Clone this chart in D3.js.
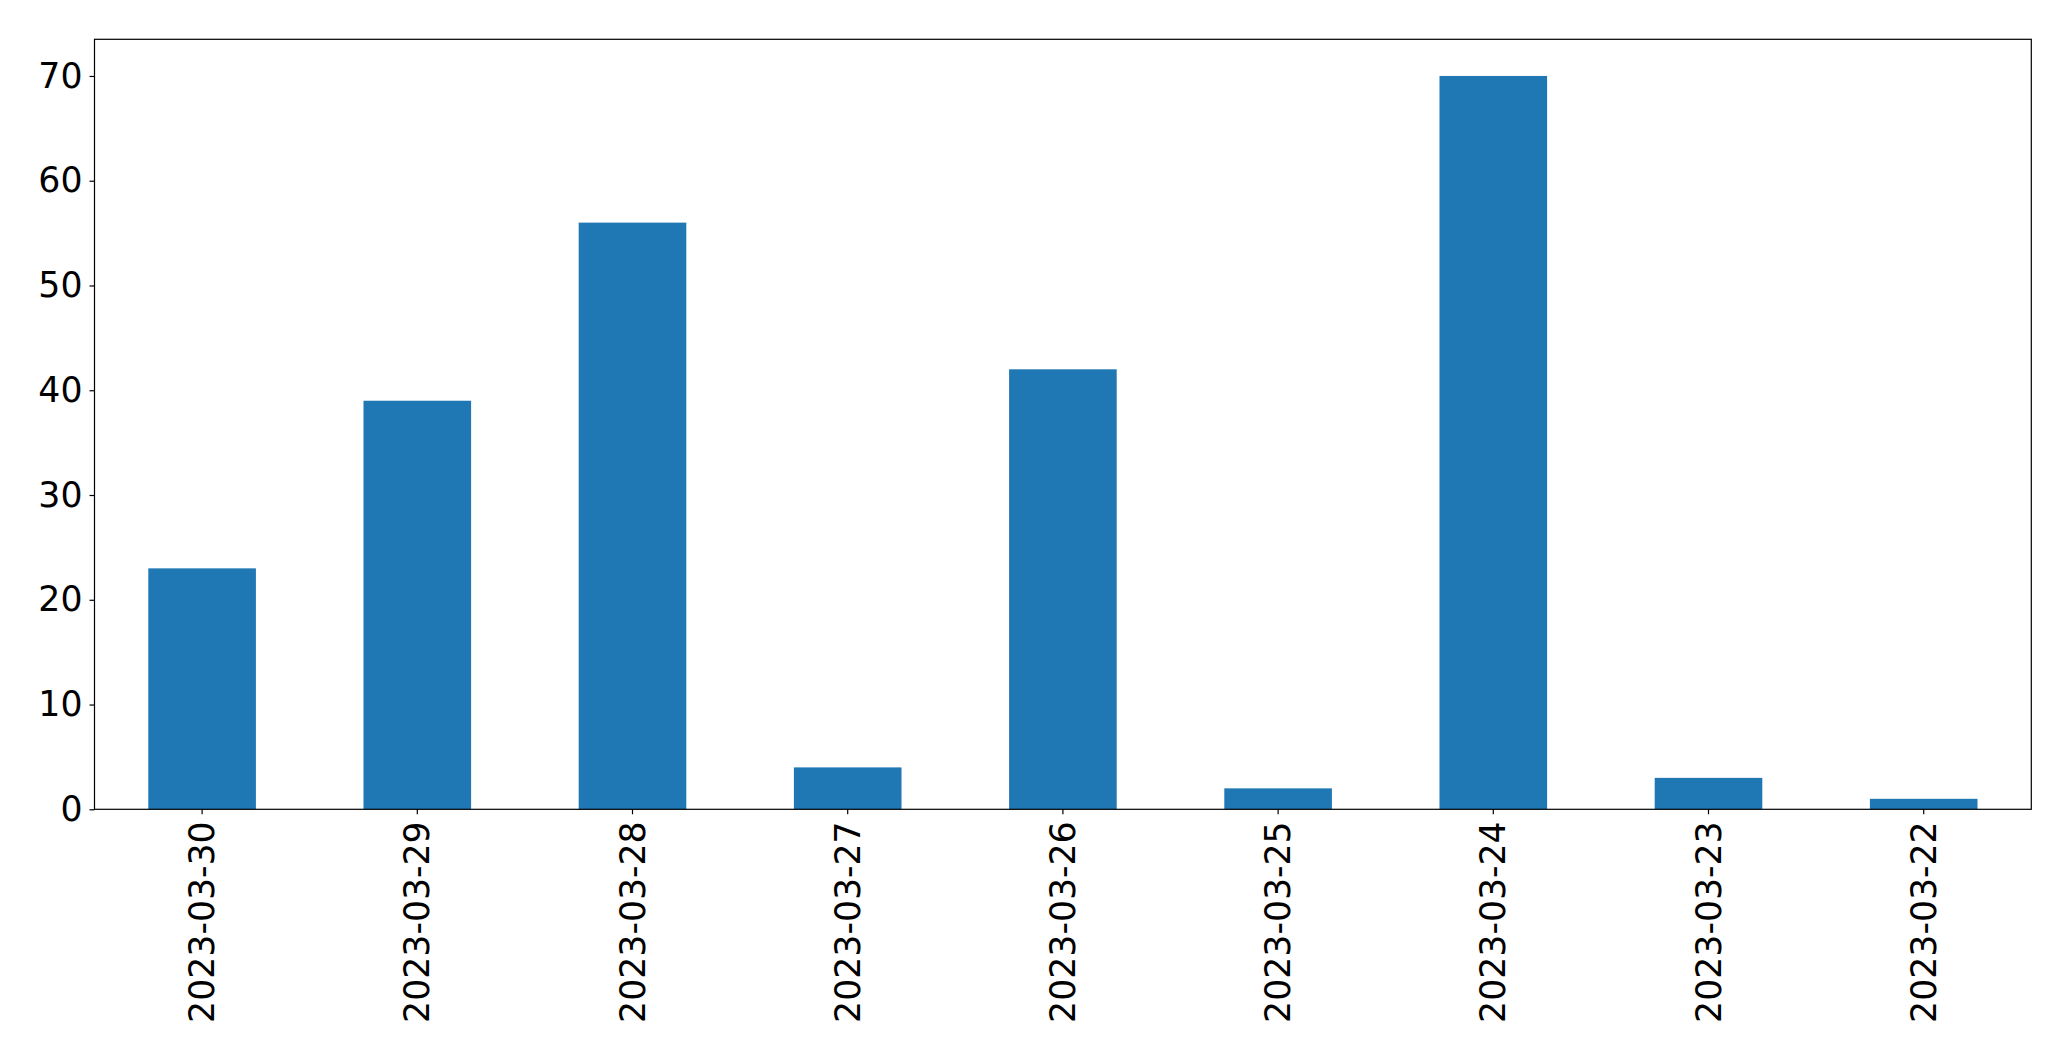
<!DOCTYPE html>
<html><head><meta charset="utf-8">
<script src="https://cdn.jsdelivr.net/npm/d3@7"></script>
<style>body{margin:0;background:#fff;} svg{display:block;}</style>
</head><body>
<script>
const categories = ["2023-03-30","2023-03-29","2023-03-28","2023-03-27","2023-03-26","2023-03-25","2023-03-24","2023-03-23","2023-03-22"];
const values = [23, 39, 56, 4, 42, 2, 70, 3, 1];
const yTicks = [0, 10, 20, 30, 40, 50, 60, 70];

const W = 2071, H = 1061;
const m = {left: 94.5, right: 2031.3, top: 39.3, bottom: 809.3};
const svg = d3.select("body").append("svg").attr("width", W).attr("height", H)
  .style("font-family", "'DejaVu Sans', sans-serif");

const x = d3.scaleBand().domain(categories).range([m.left, m.right]).paddingInner(0.5).paddingOuter(0.25);
const y = d3.scaleLinear().domain([0, 73.5]).range([m.bottom, m.top]);

svg.append("g").selectAll("rect").data(values).join("rect")
  .attr("x", (d, i) => x(categories[i]))
  .attr("width", x.bandwidth())
  .attr("y", d => y(d))
  .attr("height", d => y(0) - y(d))
  .attr("fill", "#1f77b4");

const yAxis = svg.append("g").attr("transform", `translate(${m.left},0)`)
  .call(d3.axisLeft(y).tickValues(yTicks).tickSize(5).tickPadding(7).tickFormat(d3.format("d")));
yAxis.select(".domain").remove();
yAxis.selectAll("text").attr("font-size", 34.7).attr("fill", "#000").attr("font-family", "'DejaVu Sans', sans-serif");
yAxis.selectAll("line").attr("stroke", "#000").attr("stroke-width", 1.2);

const xAxis = svg.append("g").attr("transform", `translate(0,${m.bottom})`)
  .call(d3.axisBottom(x).tickSize(5).tickPadding(7));
xAxis.select(".domain").remove();
xAxis.selectAll("line").attr("stroke", "#000").attr("stroke-width", 1.2);
xAxis.selectAll("text")
  .attr("font-size", 34.7).attr("fill", "#000").attr("font-family", "'DejaVu Sans', sans-serif")
  .attr("transform", "rotate(-90)")
  .attr("text-anchor", "end")
  .attr("x", -12).attr("y", 0).attr("dy", "0.35em");

svg.append("rect").attr("x", m.left).attr("y", m.top)
  .attr("width", m.right - m.left).attr("height", m.bottom - m.top)
  .attr("fill", "none").attr("stroke", "#000").attr("stroke-width", 1.2);
</script>
</body></html>
